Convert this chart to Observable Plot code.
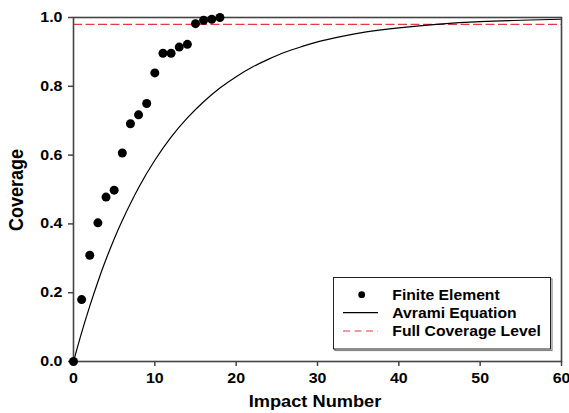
<!DOCTYPE html>
<html><head><meta charset="utf-8">
<script src="https://cdn.jsdelivr.net/npm/d3@7"></script>
<script src="https://cdn.jsdelivr.net/npm/@observablehq/plot@0.6"></script>
<style>body{margin:0;background:#fff}#chart svg{display:block}</style>
</head><body><div id="chart"></div>
<script>
// Finite element results
const impacts = [0,1,2,3,4,5,6,7,8,9,10,11,12,13,14,15,16,17,18];
const feCoverage = [0,0.180,0.309,0.403,0.478,0.498,0.606,0.691,0.717,0.750,0.839,0.896,0.896,0.914,0.922,0.982,0.992,0.995,1.0];
// Avrami curve
const avramiX = [0,1,2,3,4,5,6,8,10,12,14,16,18,20,22,24,26,28,30,33,36,40,45,50,55,60];
const avramiY = [0,0.084,0.161,0.232,0.297,0.356,0.410,0.505,0.585,0.652,0.708,0.755,0.795,0.828,0.856,0.879,0.899,0.915,0.929,0.945,0.958,0.970,0.981,0.988,0.992,0.995];
const fullCoverageLevel = [0.98];
const xTicks = [0,10,20,30,40,50,60];
const yTicks = [0,0.2,0.4,0.6,0.8,1.0];
const seriesNames = ["Finite Element","Avrami Equation","Full Coverage Level"];
const xTitle = "Impact Number";
const yTitle = "Coverage";

(function () {
const fe = impacts.map((x,i)=>({x, y: feCoverage[i]}));
const av = avramiX.map((x,i)=>({x, y: avramiY[i]}));
const FONT = "'Liberation Sans', Arial, Helvetica, sans-serif";
const STRETCH = 1.14;
const RED = "#e23b3b";

const plot = Plot.plot({
  width: 569, height: 413,
  marginLeft: 73, marginRight: 8, marginTop: 17, marginBottom: 52,
  style: {fontFamily: FONT, fontSize: "14px", fontWeight: "bold", color: "#000", background: "#fff", overflow: "visible"},
  x: {domain: [0,60], ticks: xTicks, tickSize: 5, tickPadding: 7, label: null, tickFormat: d => String(d)},
  y: {domain: [0,1], ticks: yTicks, tickSize: 5, tickPadding: 6, label: null, tickFormat: d3.format(".1f")},
  marks: [
    Plot.ruleY(fullCoverageLevel, {stroke: RED, strokeWidth: 1.2, strokeDasharray: "9,3.5"}),
    Plot.line(av, {x: "x", y: "y", stroke: "#000", strokeWidth: 1.2, curve: "natural"}),
    Plot.frame({stroke: "#444", strokeWidth: 1.6}),
    Plot.dot(fe, {x: "x", y: "y", r: 4.5, fill: "#000", stroke: "none"})
  ]
});
document.getElementById("chart").appendChild(plot);
const svg = d3.select(plot);

svg.selectAll("[aria-label='x-axis tick'], [aria-label='y-axis tick'], .tick line").attr("stroke", "#444").attr("stroke-width", 1.5);
svg.selectAll("[aria-label='x-axis tick label'] text, [aria-label='y-axis tick label'] text, .tick text").each(function() {
  const t = d3.select(this);
  const xa = t.attr("x");
  const ax = (xa != null && /^-?[\d.]+$/.test(xa)) ? parseFloat(xa) : 0;
  const tr = t.attr("transform") || "";
  t.attr("transform", `${tr} translate(${ax},0) scale(${STRETCH},1) translate(${-ax},0)`);
});

const pLeft = 73, pRight = 569 - 8;

svg.append("text")
  .attr("transform", `translate(${(pLeft + pRight) / 2 - 2},407) scale(${STRETCH},1)`)
  .attr("text-anchor", "middle").attr("font-family", FONT).attr("font-weight", "bold")
  .attr("font-size", 16).attr("fill", "#000").text(xTitle);
svg.append("text")
  .attr("transform", `translate(23,190) rotate(-90) scale(1,1.1)`)
  .attr("text-anchor", "middle").attr("font-family", FONT).attr("font-weight", "bold")
  .attr("font-size", 18).attr("fill", "#000").text(yTitle);

const lg = svg.append("g");
const bx = 333.5, by = 277.5, bw = 217, bh = 71.5;
lg.append("rect").attr("x", bx + 1.5).attr("y", by + 1.5).attr("width", bw).attr("height", bh)
  .attr("fill", "none").attr("stroke", "#888").attr("stroke-width", 1.2);
lg.append("rect").attr("x", bx).attr("y", by).attr("width", bw).attr("height", bh)
  .attr("fill", "#fff").attr("stroke", "#222").attr("stroke-width", 1);
const rows = [294.7, 312.7, 331];
lg.append("circle").attr("cx", 361.7).attr("cy", rows[0]).attr("r", 3.4).attr("fill", "#000");
lg.append("line").attr("x1", 343).attr("x2", 378).attr("y1", rows[1]).attr("y2", rows[1])
  .attr("stroke", "#000").attr("stroke-width", 1.2);
lg.append("line").attr("x1", 343).attr("x2", 378).attr("y1", rows[2]).attr("y2", rows[2])
  .attr("stroke", RED).attr("stroke-width", 1.2).attr("stroke-dasharray", "7,4.5");
seriesNames.forEach((name, i) => {
  lg.append("text")
    .attr("transform", `translate(392.3,${rows[i] + 5}) scale(${STRETCH},1)`)
    .attr("text-anchor", "start")
    .attr("font-family", FONT).attr("font-weight", "bold").attr("font-size", 13.8)
    .attr("fill", "#000").text(name);
});
})();
</script>
</body></html>
